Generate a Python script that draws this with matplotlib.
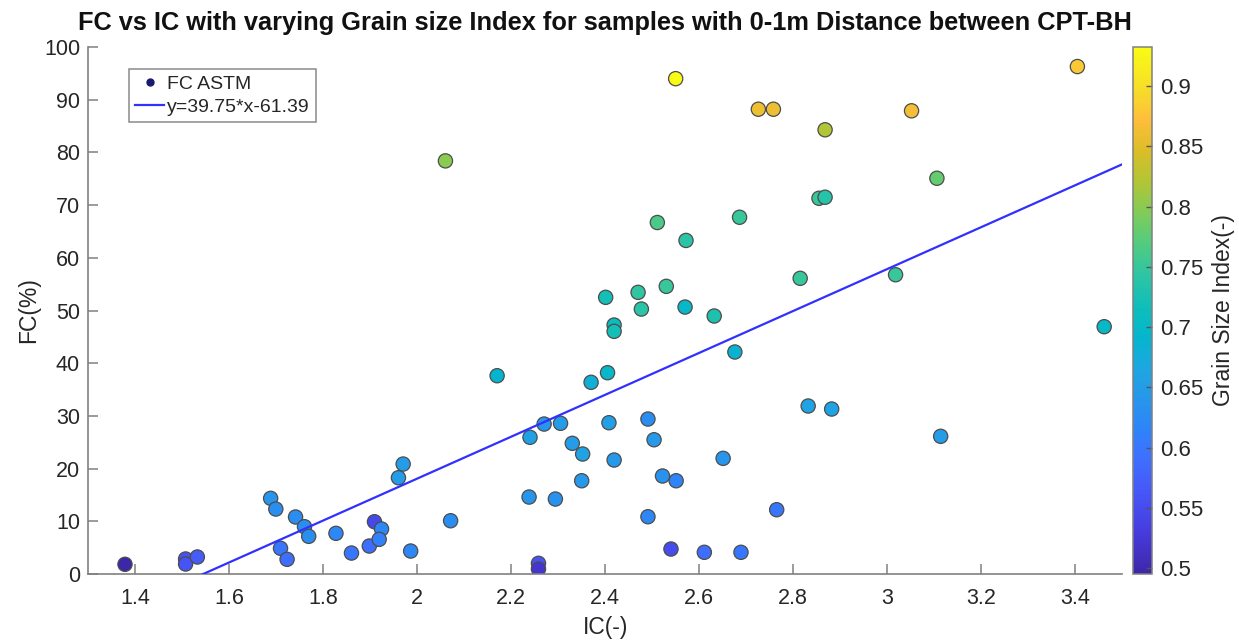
import matplotlib
matplotlib.use("Agg")
import matplotlib.pyplot as plt
import numpy as np
from matplotlib.colors import LinearSegmentedColormap
from matplotlib.lines import Line2D

plt.rcParams['font.family'] = ['Liberation Sans', 'DejaVu Sans']

# IC(-), FC(%) and grain size index for each sample
ic = [1.378, 1.507, 1.507, 1.532, 1.688, 1.699, 1.741, 1.760, 1.769, 1.709,
      1.723, 1.827, 1.860, 1.898, 1.909, 1.924, 1.919, 1.960, 1.970, 1.986,
      2.071, 2.170, 2.238, 2.240, 2.270, 2.258, 2.258, 2.294, 2.305, 2.330,
      2.352, 2.350, 2.370, 2.405, 2.401, 2.419, 2.419, 2.408, 2.419, 2.470,
      2.477, 2.491, 2.504, 2.491, 2.522, 2.551, 2.530, 2.570, 2.632, 2.540,
      2.611, 2.689, 2.676, 2.651, 2.765, 2.832, 2.882, 2.815, 3.018, 3.462,
      3.114, 2.060, 2.550, 2.726, 2.758, 2.511, 2.572, 2.686, 2.868, 3.052,
      3.405, 3.106, 2.855, 2.868]
fc = [1.84, 2.85, 1.90, 3.23, 14.36, 12.33, 10.82, 8.98, 7.15, 4.88,
      2.79, 7.72, 3.98, 5.31, 9.92, 8.54, 6.58, 18.27, 20.87, 4.36,
      10.11, 37.63, 14.61, 25.94, 28.46, 2.03, 0.95, 14.23, 28.60, 24.80,
      22.77, 17.70, 36.38, 38.20, 52.50, 47.25, 46.05, 28.71, 21.63, 53.45,
      50.28, 29.41, 25.48, 10.87, 18.60, 17.70, 54.59, 50.66, 48.96, 4.74,
      4.12, 4.12, 42.13, 21.95, 12.20, 31.88, 31.31, 56.11, 56.79, 46.93,
      26.13, 78.4, 94.0, 88.2, 88.2, 66.7, 63.3, 67.7, 84.3, 87.9,
      96.3, 75.1, 71.3, 71.5]
gsi = [0.495, 0.56, 0.56, 0.57, 0.64, 0.63, 0.63, 0.63, 0.63, 0.60,
       0.59, 0.62, 0.60, 0.59, 0.545, 0.62, 0.61, 0.65, 0.65, 0.62,
       0.63, 0.69, 0.64, 0.655, 0.64, 0.56, 0.52, 0.635, 0.65, 0.65,
       0.66, 0.645, 0.68, 0.70, 0.72, 0.71, 0.72, 0.655, 0.645, 0.745,
       0.74, 0.63, 0.645, 0.62, 0.635, 0.615, 0.75, 0.70, 0.73, 0.55,
       0.59, 0.60, 0.685, 0.64, 0.60, 0.66, 0.66, 0.75, 0.75, 0.70,
       0.65, 0.80, 0.9325, 0.86, 0.86, 0.765, 0.74, 0.75, 0.82, 0.865,
       0.88, 0.78, 0.75, 0.735]

# linear fit reported in the legend
fit_slope = 39.75
fit_intercept = -61.39

cbar_ticks = [0.5, 0.55, 0.6, 0.65, 0.7, 0.75, 0.8, 0.85, 0.9]
cbar_labels = ['0.5', '0.55', '0.6', '0.65', '0.7', '0.75', '0.8', '0.85', '0.9']

# parula-like colormap
parula_pos = [0.0, 0.078, 0.157, 0.22, 0.275, 0.333, 0.39, 0.45, 0.5,
              0.57, 0.627, 0.686, 0.745, 0.804, 0.863, 0.92, 1.0]
parula_rgb = [(0.2422, 0.1504, 0.6603), (0.2749, 0.2330, 0.8692),
              (0.2798, 0.3421, 0.9702), (0.2424, 0.4378, 0.9991),
              (0.1806, 0.5191, 0.9738), (0.1540, 0.5902, 0.9218),
              (0.1185, 0.6541, 0.8834), (0.0155, 0.7133, 0.8064),
              (0.0504, 0.7423, 0.7359), (0.1853, 0.7721, 0.6379),
              (0.3176, 0.7994, 0.4975), (0.5044, 0.7993, 0.3480),
              (0.6963, 0.7750, 0.2075), (0.8600, 0.7413, 0.1587),
              (0.9966, 0.7458, 0.2351), (0.9671, 0.8654, 0.1636),
              (0.9769, 0.9839, 0.0805)]
parula = LinearSegmentedColormap.from_list('parula', list(zip(parula_pos, parula_rgb)))

axis_col = '#808080'
text_col = '#262626'

fig = plt.figure(figsize=(12.39, 6.4), dpi=100)
ax = fig.add_axes([0.0713, 0.1031, 0.8343, 0.8234])
cax = fig.add_axes([0.9147, 0.1031, 0.0153, 0.8234])

sc = ax.scatter(ic, fc, c=gsi, cmap=parula, vmin=0.495, vmax=0.9325, s=105,
                edgecolors='#4d4d4d', linewidths=0.9, zorder=2)

xl = np.array([1.3, 3.5])
ax.plot(xl, fit_slope * xl + fit_intercept, color='#3030ff', lw=1.6, zorder=3)

ax.set_xlim(1.3, 3.5)
ax.set_ylim(0, 100)
ax.set_xticks(np.arange(1.4, 3.41, 0.2))
ax.set_xticklabels(['1.4', '1.6', '1.8', '2', '2.2', '2.4', '2.6', '2.8', '3', '3.2', '3.4'])
ax.set_yticks(np.arange(0, 101, 10))
for s in ['top', 'right']:
    ax.spines[s].set_visible(False)
for s in ['left', 'bottom']:
    ax.spines[s].set_color(axis_col)
    ax.spines[s].set_linewidth(1.2)
ax.tick_params(axis='x', direction='in', length=7, width=1.1, color=axis_col,
               labelsize=15.5, labelcolor=text_col, pad=10)
ax.tick_params(axis='y', direction='in', length=7, width=1.1, color=axis_col,
               labelsize=15.5, labelcolor=text_col, pad=6)

ax.set_xlabel('IC(-)', fontsize=16.5, color=text_col, labelpad=5)
ax.set_ylabel('FC(%)', fontsize=16.5, color=text_col, labelpad=3)
ax.set_title('FC vs IC with varying Grain size Index for samples with 0-1m Distance between CPT-BH',
             fontsize=18.3, fontweight='bold', color='#111111', pad=12)

handles = [Line2D([], [], ls='none', marker='o', ms=5, color='#1a1a70'),
           Line2D([], [], color='#3030ff', lw=1.6)]
leg = ax.legend(handles, ['FC ASTM', f'y={fit_slope}*x{fit_intercept}'],
                loc='upper left', bbox_to_anchor=(0.0397, 0.9577), fontsize=14,
                fancybox=False, edgecolor='#8a8a8a', framealpha=1,
                handlelength=1.5, handletextpad=0.15, borderpad=0.3,
                labelspacing=0.3, borderaxespad=0)
leg.get_frame().set_linewidth(1.1)
for t in leg.get_texts():
    t.set_color(text_col)

cb = fig.colorbar(sc, cax=cax)
cb.set_ticks(cbar_ticks)
cb.set_ticklabels(cbar_labels)
cb.outline.set_edgecolor(axis_col)
cb.outline.set_linewidth(1.1)
cax.tick_params(direction='in', length=4, width=1, color='#555555',
                labelsize=16, labelcolor=text_col, pad=6)
cb.set_label('Grain Size Index(-)', fontsize=16.5, color=text_col, labelpad=6)

fig.savefig('out.png', dpi=100)
